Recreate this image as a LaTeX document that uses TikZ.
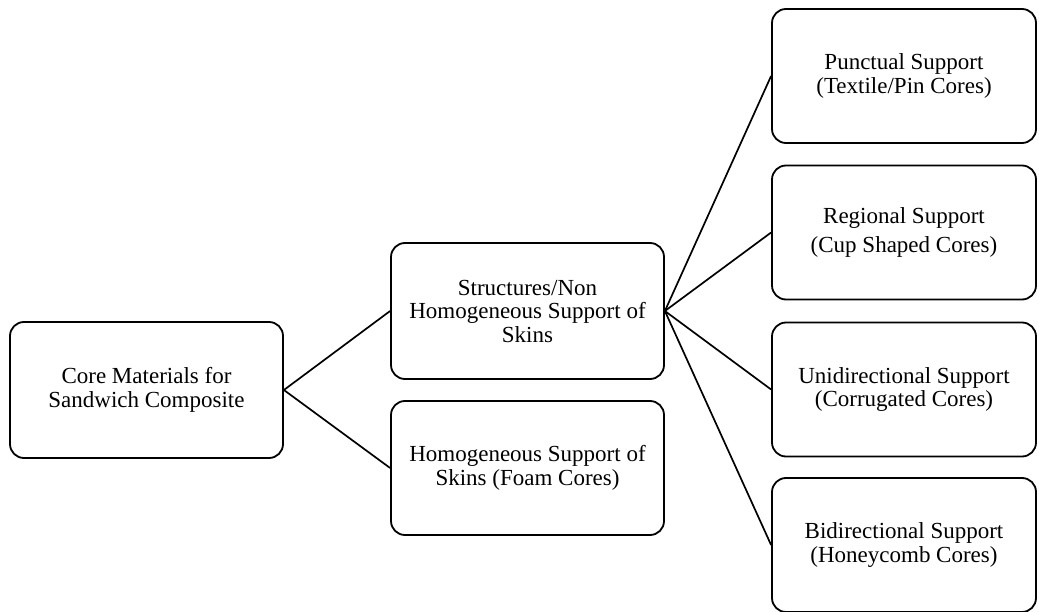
\documentclass[tikz,border=0pt]{standalone}
\usepackage{fontspec}
\setmainfont{Liberation Serif}
\usetikzlibrary{positioning}

\begin{document}
\begin{tikzpicture}[x=1pt, y=-1pt, font=\fontsize{23}{23.5}\selectfont,
  corebox/.style={draw, line width=1.8pt, rounded corners=14pt, align=center,
    minimum width=273pt, minimum height=136pt, inner sep=4pt},
  subbox/.style={corebox, minimum width=264pt, minimum height=134pt},
  link/.style={line width=1.7pt}]

  \useasboundingbox (0, 0) rectangle (1039, 612);

  % first level
  \node[corebox] (core) at (146.5, 390) {Core Materials for\\Sandwich Composite};

  % second level
  \node[corebox] (nonhomo) at (527.5, 311) {Structures/Non\\Homogeneous Support of\\Skins};
  \node[corebox, minimum height=134pt] (homo) at (527.5, 468) {Homogeneous Support of\\Skins (Foam Cores)};

  % third level
  \node[subbox] (punctual) at (904, 76) {Punctual Support\\(Textile/Pin Cores)};
  \node[subbox] (regional) at (904, 232.5) {Regional Support\\[5pt](Cup Shaped Cores)};
  \node[subbox] (unidir) at (904, 389.5) {Unidirectional Support\\(Corrugated Cores)};
  \node[subbox] (bidir) at (904, 545) {Bidirectional Support\\(Honeycomb Cores)};

  \draw[link] (core.east) -- (nonhomo.west);
  \draw[link] (core.east) -- (homo.west);

  \foreach \sub in {punctual, regional, unidir, bidir} {
    \draw[link] (nonhomo.east) -- (\sub.west);
  }

\end{tikzpicture}
\end{document}
